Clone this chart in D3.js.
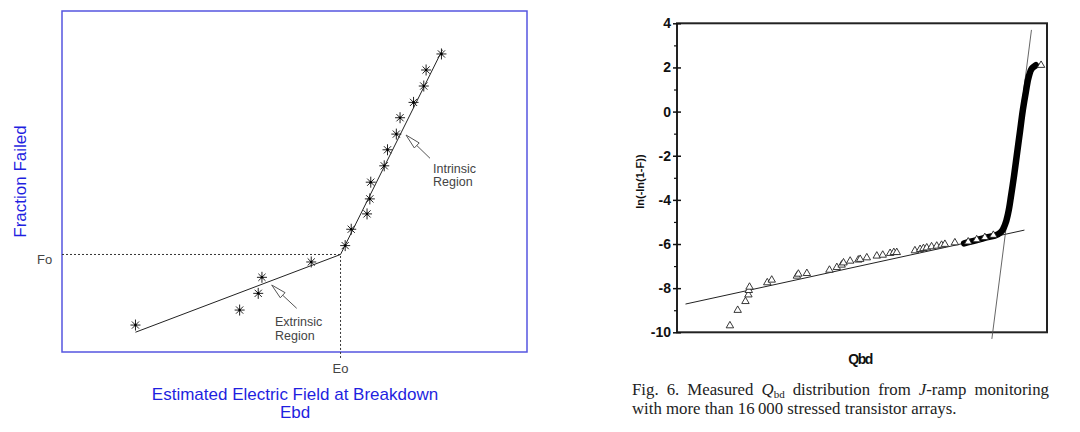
<!DOCTYPE html>
<html>
<head>
<meta charset="utf-8">
<script src="https://cdn.jsdelivr.net/npm/d3@7"></script>
<style>
  body { margin: 0; background: #fff; }
  svg { display: block; }
</style>
</head>
<body>
<div id="chart"></div>
<script>
// ---- left panel: Weibull-like breakdown plot (arbitrary units 0..100) ----
const starField = [15.8, 38.2, 42.2, 43.0, 53.6, 60.9, 62.2, 65.6, 66.2, 66.4, 69.3, 70.0, 71.9, 72.7, 75.6, 77.8, 78.3, 81.6];
const starFrac  = [7.9, 12.3, 17.2, 21.9, 26.4, 31.2, 36.0, 40.5, 44.9, 49.8, 54.6, 59.3, 63.9, 68.7, 73.2, 78.0, 82.7, 87.4];
const fitField  = [15.8, 59.9, 81.8];
const fitFrac   = [5.8, 28.6, 88.6];
const E0 = 59.9, F0 = 28.6;

// ---- right panel: Qbd distribution ----
const yTicks = [-10, -8, -6, -4, -2, 0, 2, 4];
const yMinor = [-9, -7, -5, -3, -1, 1, 3];
const triQ = [14.3, 16.4, 18.5, 19.3, 19.4, 19.6, 24.4, 25.6, 32.4, 32.8, 35.1, 41.2, 43.2, 44.5, 45.0, 46.8, 49.0, 49.5, 51.3, 54.0, 55.6, 57.6, 58.6, 59.4,
              64.3, 65.7, 66.6, 67.5, 68.8, 70.2, 71.5, 72.4, 75.1, 78.7, 81.0, 83.2, 85.5, 98.4];
const triW = [-9.7, -9.0, -8.6, -8.3, -8.1, -7.95, -7.75, -7.63, -7.45, -7.36, -7.33, -7.18, -7.06, -6.95, -6.85, -6.77, -6.72, -6.69, -6.62, -6.54, -6.50, -6.42, -6.38, -6.38,
              -6.30, -6.24, -6.20, -6.17, -6.12, -6.09, -6.05, -6.01, -5.94, -5.90, -5.80, -5.70, -5.60, 2.1];
// dense band (thousands of overlapping triangles)
const bandQ = [77.6, 80.5, 83.2, 85.9, 87.6, 88.6, 89.5, 90.3, 91.1, 91.9, 92.7, 93.5, 94.3, 95.1, 95.9, 97.0];
const bandW = [-5.97, -5.85, -5.72, -5.62, -5.45, -5.15, -4.6, -3.8, -2.9, -1.9, -0.9, 0.1, 0.9, 1.6, 1.95, 2.1];
const lowFitQ = [2.3, 93.9], lowFitW = [-8.72, -5.37];
const steepQ = [85.1, 95.8], steepW = [-10.3, 3.7];

const W = 1080, H = 432;
const svg = d3.select('#chart').append('svg')
  .attr('width', W).attr('height', H)
  .attr('viewBox', [0, 0, W, H]);
svg.append('rect').attr('width', W).attr('height', H).attr('fill', '#fff');

const lx = d3.scaleLinear().domain([0, 100]).range([62, 527]);
const ly = d3.scaleLinear().domain([0, 100]).range([352, 11]);
const blue = '#1f1fe0';

const left = svg.append('g');
left.append('rect')
  .attr('x', lx(0)).attr('y', ly(100))
  .attr('width', lx(100) - lx(0)).attr('height', ly(0) - ly(100))
  .attr('fill', 'none').attr('stroke', '#5555e0').attr('stroke-width', 1.5);

// dashed guides to the kink
left.append('path')
  .attr('d', `M${lx(0)},${ly(F0)}H${lx(E0)}V${ly(0) + 6}`)
  .attr('fill', 'none').attr('stroke', '#333').attr('stroke-width', 1)
  .attr('stroke-dasharray', '2,2');

left.append('path')
  .datum(d3.zip(fitField, fitFrac))
  .attr('d', d3.line().x(d => lx(d[0])).y(d => ly(d[1])))
  .attr('fill', 'none').attr('stroke', '#222').attr('stroke-width', 1);

const star = 'M-5,0H5M0,-5.5V5.5M-3.6,-3.6L3.6,3.6M-3.6,3.6L3.6,-3.6';
left.selectAll('path.star')
  .data(d3.zip(starField, starFrac))
  .join('path')
  .attr('class', 'star')
  .attr('transform', d => `translate(${lx(d[0])},${ly(d[1])})`)
  .attr('d', star)
  .attr('fill', 'none').attr('stroke', '#222').attr('stroke-width', 1);
left.selectAll('circle.dot')
  .data(d3.zip(starField, starFrac))
  .join('circle')
  .attr('cx', d => lx(d[0])).attr('cy', d => ly(d[1])).attr('r', 1.3).attr('fill', '#000');

// annotation arrows with hollow heads
function arrow(g, tip, tail) {
  const dx = tail[0] - tip[0], dy = tail[1] - tip[1];
  const len = Math.hypot(dx, dy), ux = dx / len, uy = dy / len;
  const hl = 15, hw = 3.5;
  const bx = tip[0] + ux * hl, by = tip[1] + uy * hl;
  g.append('path')
    .attr('d', `M${bx},${by}L${tail[0]},${tail[1]}`)
    .attr('stroke', '#555').attr('stroke-width', 1).attr('fill', 'none');
  g.append('path')
    .attr('d', `M${tip[0]},${tip[1]}L${bx - uy * hw},${by + ux * hw}L${bx + uy * hw},${by - ux * hw}Z`)
    .attr('stroke', '#555').attr('stroke-width', 1).attr('fill', '#fff');
}
arrow(left, [271.7, 285], [296.7, 308.3]);
arrow(left, [406, 135], [430, 158.3]);

const note = left.append('g').style('font', '12.5px Arial, "Liberation Sans", sans-serif').attr('fill', '#444');
note.append('text').attr('x', 275).attr('y', 326).text('Extrinsic');
note.append('text').attr('x', 275).attr('y', 340).text('Region');
note.append('text').attr('x', 433).attr('y', 172.5).text('Intrinsic');
note.append('text').attr('x', 433).attr('y', 186).text('Region');
note.append('text').attr('x', 37).attr('y', 264).style('font-size', '13px').text('Fo');
note.append('text').attr('x', lx(E0)).attr('y', 373).attr('text-anchor', 'middle').style('font-size', '13px').text('Eo');

const lab = left.append('g').style('font', '17px Arial, "Liberation Sans", sans-serif').attr('fill', blue);
lab.append('text')
  .attr('transform', 'translate(26,181.5) rotate(-90)')
  .attr('text-anchor', 'middle').text('Fraction Failed');
lab.append('text').attr('x', 295).attr('y', 400).attr('text-anchor', 'middle')
  .text('Estimated Electric Field at Breakdown');
lab.append('text').attr('x', 295).attr('y', 418).attr('text-anchor', 'middle').text('Ebd');

// ---- right panel ----
const rx = d3.scaleLinear().domain([0, 100]).range([677, 1047]);
const ry = d3.scaleLinear().domain([-10, 4]).range([332.3, 23.3]);
const right = svg.append('g');

right.append('rect')
  .attr('x', rx(0)).attr('y', ry(4))
  .attr('width', rx(100) - rx(0)).attr('height', ry(-10) - ry(4))
  .attr('fill', 'none').attr('stroke', '#222').attr('stroke-width', 2);

const yAxis = right.append('g')
  .attr('transform', `translate(${rx(0)},0)`)
  .call(d3.axisLeft(ry).tickValues(yTicks).tickSizeInner(4).tickSizeOuter(0).tickPadding(3)
    .tickFormat(d => String(d)));
yAxis.select('.domain').remove();
yAxis.selectAll('.tick line').attr('stroke', '#111').attr('stroke-width', 1.5).attr('x2', 4).attr('x1', -4);
yAxis.selectAll('.tick text')
  .style('font', 'bold 14px Arial, "Liberation Sans", sans-serif').attr('fill', '#111').attr('x', -6);

const yMin = right.append('g')
  .attr('transform', `translate(${rx(0)},0)`)
  .call(d3.axisLeft(ry).tickValues(yMinor).tickSize(3).tickFormat(''));
yMin.select('.domain').remove();
yMin.selectAll('.tick line').attr('stroke', '#111').attr('stroke-width', 1.2);

right.append('path')
  .datum(d3.zip(lowFitQ, lowFitW))
  .attr('d', d3.line().x(d => rx(d[0])).y(d => ry(d[1])))
  .attr('stroke', '#222').attr('stroke-width', 1).attr('fill', 'none');
right.append('path')
  .datum(d3.zip(steepQ, steepW))
  .attr('d', d3.line().x(d => rx(d[0])).y(d => ry(d[1])))
  .attr('stroke', '#555').attr('stroke-width', 0.9).attr('fill', 'none');

right.append('path')
  .datum(d3.zip(bandQ, bandW))
  .attr('d', d3.line().x(d => rx(d[0])).y(d => ry(d[1])).curve(d3.curveMonotoneY))
  .attr('stroke', '#000').attr('stroke-width', 6.5).attr('stroke-linecap', 'round')
  .attr('stroke-linejoin', 'round').attr('fill', 'none');

const tri = d3.symbol(d3.symbolTriangle, 24);
right.selectAll('path.tri')
  .data(d3.zip(triQ, triW))
  .join('path')
  .attr('class', 'tri')
  .attr('transform', d => `translate(${rx(d[0])},${ry(d[1])})`)
  .attr('d', tri)
  .attr('fill', '#fff').attr('stroke', '#222').attr('stroke-width', 0.9);

right.append('text')
  .attr('transform', 'translate(644,181.6) rotate(-90)')
  .attr('text-anchor', 'middle')
  .style('font', 'bold 11px Arial, "Liberation Sans", sans-serif')
  .attr('fill', '#111').text('ln(-ln(1-F))');
right.append('text')
  .attr('x', 860).attr('y', 364).attr('text-anchor', 'middle')
  .style('font', 'bold 14px Arial, "Liberation Sans", sans-serif')
  .style('letter-spacing', '-1.5px')
  .attr('fill', '#111').text('Qbd');

// caption (serif, first line justified)
const cap = right.append('g')
  .style('font', '16.8px "Liberation Serif", "Times New Roman", serif').attr('fill', '#222');
const l1 = cap.append('text').attr('x', 632).attr('y', 395);
l1.append('tspan').text('Fig. 6. Measured ');
l1.append('tspan').style('font-style', 'italic').text('Q');
l1.append('tspan').attr('dy', 3).style('font-size', '11px').text('bd');
l1.append('tspan').attr('dy', -3).text(' distribution from ');
l1.append('tspan').style('font-style', 'italic').text('J');
l1.append('tspan').text('-ramp monitoring');
const natural = l1.node().getComputedTextLength();
l1.style('word-spacing', Math.max(0, (1049 - 632 - natural) / 7) + 'px');
cap.append('text').attr('x', 632).attr('y', 414)
  .text('with more than 16\u2009000 stressed transistor arrays.');
</script>
</body>
</html>
